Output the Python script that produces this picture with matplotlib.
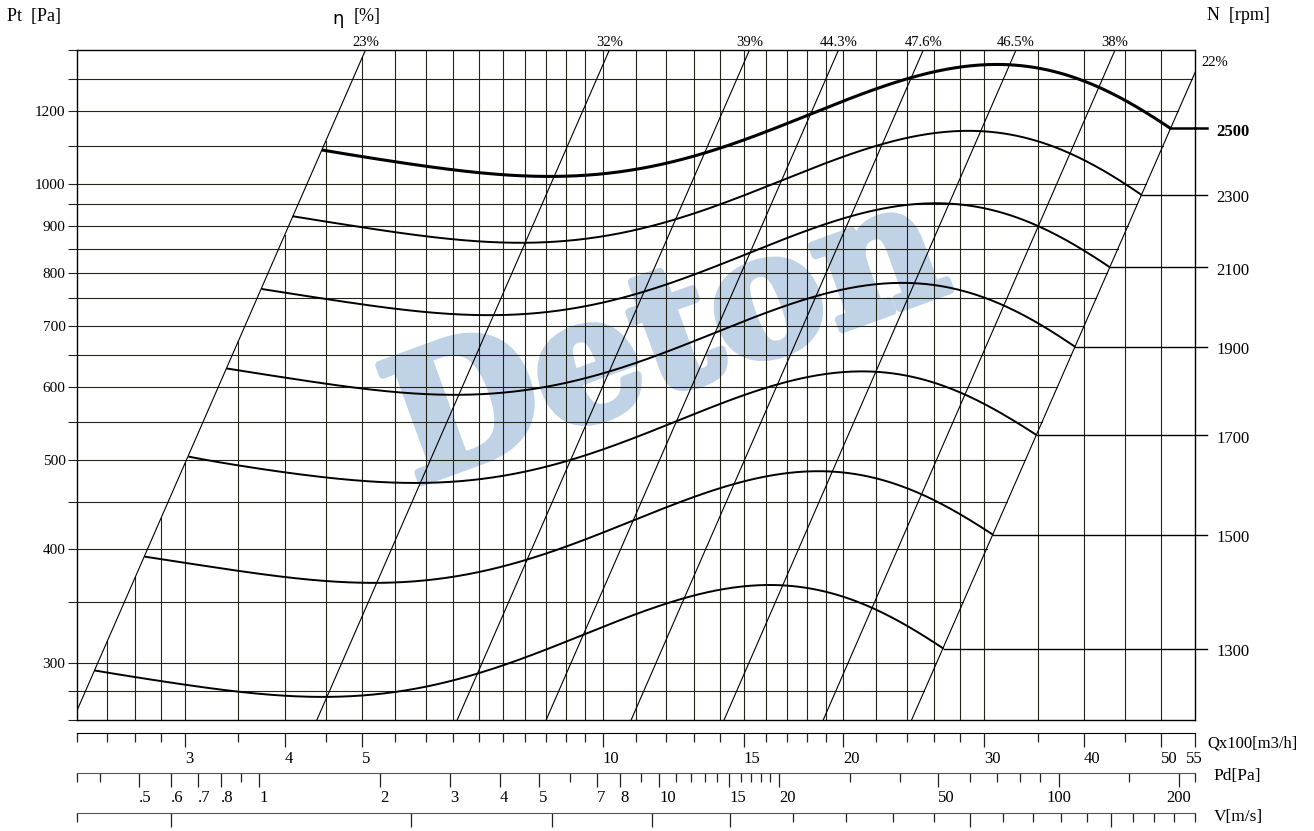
import numpy as np
import matplotlib
matplotlib.use("Agg")
import matplotlib.pyplot as plt
import matplotlib.transforms as mtransforms
import matplotlib.patheffects as pe
from matplotlib.ticker import NullLocator, NullFormatter

plt.rcParams['font.family'] = ['Liberation Serif', 'DejaVu Sans']

# ---------------- data ----------------
q_lim = (2.2, 55.0)          # Qx100 [m3/h]
p_lim = (260.0, 1400.0)      # Pt [Pa]
pd_lim = (0.35, 218.7)       # Pd [Pa]
v_lim = (0.7636, 19.09)      # V [m/s]

q_grid = [2.2, 2.4, 2.6, 2.8, 3, 3.5, 4, 4.5, 5, 5.5, 6, 6.5, 7, 7.5, 8, 8.5, 9, 9.5,
          10, 11, 12, 13, 14, 15, 16, 17, 18, 19, 20, 22, 24, 26, 28, 30, 35, 40, 45, 50, 55]
q_major = [3, 4, 5, 10, 15, 20, 30, 40, 50, 55]
q_major_labels = ['3', '4', '5', '10', '15', '20', '30', '40', '50', '55']

p_grid = [260, 280, 300, 350, 400, 450, 500, 550, 600, 650, 700, 750, 800, 850,
          900, 950, 1000, 1100, 1200, 1300, 1400]
p_labeled = [300, 400, 500, 600, 700, 800, 900, 1000, 1200]

pd_major = [0.5, 0.6, 0.7, 0.8, 1, 2, 3, 4, 5, 7, 8, 10, 15, 20, 50, 100, 200]
pd_major_labels = ['.5', '.6', '.7', '.8', '1', '2', '3', '4', '5', '7', '8', '10',
                   '15', '20', '50', '100', '200']
pd_minor = [0.35, 0.4, 0.9, 6, 9, 11, 12, 13, 14, 16, 17, 18, 19, 30, 40, 60, 70, 80,
            90, 150, 218.7]

v_major = [1, 2, 3, 4, 5, 10, 15]
v_minor = [0.7636, 6, 7, 8, 9, 11, 12, 13, 14, 16, 17, 18, 19.09]

eta_names = ['23%', '32%', '39%', '44.3%', '47.6%', '46.5%', '38%', '22%']
eta_q_top = [5.047, 10.19, 15.26, 19.72, 25.18, 32.89, 43.75, 56.67]      # at Pt = 1400
eta_q_bottom = [2.172, 4.387, 6.573, 8.493, 10.85, 14.18, 18.87, 24.34]   # at Pt = 260

rpm_labels = ['2500', '2300', '2100', '1900', '1700', '1500', '1300']

q_2500 = [4.45, 5.00, 6.00, 7.48, 8.42, 9.48, 10.8, 12.0, 13.5, 15.6, 18.1, 20.9, 24.2, 28.1, 31.1, 37.7, 41.9, 47.5, 51.3]
p_2500 = [1089, 1071, 1045, 1022, 1020, 1024, 1035, 1050, 1082, 1135, 1187, 1248, 1305, 1344, 1353, 1311, 1274, 1201, 1150]
q_2300 = [4.09, 4.60, 5.52, 6.88, 7.75, 8.72, 9.94, 11.0, 12.4, 14.4, 16.7, 19.2, 22.3, 25.9, 28.6, 34.7, 38.5, 43.7, 47.2]
p_2300 = [922, 907, 885, 865, 863, 867, 876, 889, 916, 961, 1005, 1056, 1105, 1138, 1145, 1110, 1078, 1017, 973]
q_2100 = [3.74, 4.20, 5.04, 6.28, 7.07, 7.96, 9.07, 10.1, 11.3, 13.1, 15.2, 17.6, 20.3, 23.6, 26.1, 31.7, 35.2, 39.9, 43.1]
p_2100 = [768, 756, 737, 721, 720, 723, 730, 741, 764, 801, 838, 881, 921, 948, 955, 925, 899, 847, 811]
q_1900 = [3.38, 3.80, 4.56, 5.69, 6.40, 7.21, 8.21, 9.12, 10.3, 11.9, 13.8, 15.9, 18.4, 21.4, 23.6, 28.7, 31.8, 36.1, 39.0]
p_1900 = [629, 619, 604, 590, 589, 592, 598, 607, 625, 656, 686, 721, 754, 776, 782, 757, 736, 694, 664]
q_1700 = [3.03, 3.40, 4.08, 5.09, 5.73, 6.45, 7.34, 8.16, 9.18, 10.6, 12.3, 14.2, 16.5, 19.1, 21.2, 25.6, 28.5, 32.3, 34.9]
p_1700 = [504, 495, 483, 473, 472, 474, 479, 486, 500, 525, 549, 577, 603, 622, 626, 606, 589, 555, 532]
q_1500 = [2.67, 3.00, 3.60, 4.49, 5.05, 5.69, 6.48, 7.20, 8.10, 9.36, 10.9, 12.5, 14.5, 16.9, 18.7, 22.6, 25.1, 28.5, 30.8]
p_1500 = [392, 386, 376, 368, 367, 369, 373, 378, 390, 409, 427, 449, 470, 484, 487, 472, 459, 432, 414]
q_1300 = [2.31, 2.60, 3.12, 3.89, 4.38, 4.93, 5.62, 6.24, 7.02, 8.11, 9.41, 10.9, 12.6, 14.6, 16.2, 19.6, 21.8, 24.7, 26.7]
p_1300 = [294.5, 289.6, 282.6, 276.3, 275.8, 276.9, 279.9, 283.9, 292.6, 306.9, 321.0, 337.5, 352.9, 363.4, 365.9, 354.5, 344.5, 324.8, 311.0]

curves = [(q_2500, p_2500), (q_2300, p_2300), (q_2100, p_2100), (q_1900, p_1900),
          (q_1700, p_1700), (q_1500, p_1500), (q_1300, p_1300)]


def smooth_curve(q, p, deg=6, num=400):
    """Least-squares smooth line through the read points (log-log), ends pinned."""
    x = np.log10(np.asarray(q, float))
    y = np.log10(np.asarray(p, float))
    w = np.ones_like(x)
    w[0] = w[-1] = 20.0
    w[1] = w[-2] = 4.0
    xm = x.mean()
    coef = np.polyfit(x - xm, y, deg, w=w)
    xs = np.linspace(x[0], x[-1], num)
    return 10 ** xs, 10 ** np.polyval(coef, xs - xm)


# ---------------- figure ----------------
W, H = 1314, 831
fig = plt.figure(figsize=(W / 100, H / 100), dpi=100)


def fx(px):
    return px / W


def fy(py):
    return 1 - py / H


LEFT, RIGHT, TOP, BOTTOM = 77.3, 1194.5, 50.0, 720.0
GRID_C = '#24241a'

ax = fig.add_axes([fx(LEFT), fy(BOTTOM), (RIGHT - LEFT) / W, (BOTTOM - TOP) / H])
ax.set_xscale('log')
ax.set_yscale('log')
ax.set_xlim(q_lim)
ax.set_ylim(p_lim)
for s in ax.spines.values():
    s.set_linewidth(1.0)
    s.set_color('black')

ax.xaxis.set_minor_locator(NullLocator())
ax.yaxis.set_minor_locator(NullLocator())
ax.tick_params(axis='x', which='both', bottom=False, labelbottom=False)
ax.set_yticks(p_grid, labels=[str(v) if v in p_labeled else '' for v in p_grid])
ax.yaxis.set_minor_formatter(NullFormatter())
ax.tick_params(axis='y', which='major', length=6.7, width=0.8, pad=1.8,
               labelsize=11, direction='out', color=GRID_C)

lq = np.log10
lp_lo, lp_hi = lq(p_lim[0]), lq(p_lim[1])

# vertical grid lines: bounded above by the 23% line
for q in q_grid[1:-1]:
    top = np.interp(lq(q), [lq(eta_q_bottom[0]), lq(eta_q_top[0])], [lp_lo, lp_hi])
    ax.plot([q, q], [p_lim[0], 10 ** top], color=GRID_C, lw=0.8, zorder=1)

# horizontal grid lines: bounded right by the 22% line
for p in p_grid[1:-1]:
    qr = 10 ** np.interp(lq(p), [lp_lo, lp_hi], [lq(eta_q_bottom[-1]), lq(eta_q_top[-1])])
    ax.plot([q_lim[0], min(qr, q_lim[1])], [p, p], color=GRID_C, lw=0.8, zorder=1)

# efficiency (system) lines
for name, qt, qb in zip(eta_names, eta_q_top, eta_q_bottom):
    ax.plot([qb, qt], [p_lim[0], p_lim[1]], color='black', lw=0.8, zorder=2)
    if name != '22%':
        ax.annotate(name, (qt, p_lim[1]), xytext=(0, 7.5), textcoords='offset pixels',
                    ha='center', va='center', fontsize=10.5, annotation_clip=False)
ax.text(1 + 6.5 / (RIGHT - LEFT), (BOTTOM - 62) / (BOTTOM - TOP), eta_names[-1],
        transform=ax.transAxes, ha='left', va='center', fontsize=10.5)

# fan curves
blend = mtransforms.blended_transform_factory(ax.transAxes, ax.transData)
lab_off = mtransforms.ScaledTranslation(0, -0.035, fig.dpi_scale_trans)
for k, ((qs, ps), lab) in enumerate(zip(curves, rpm_labels)):
    xs, ys = smooth_curve(qs, ps)
    lw = 2.2 if k == 0 else 1.4
    ax.plot(xs, ys, color='black', lw=lw, zorder=3, solid_capstyle='butt')
    pe_ = ps[-1]
    ax.plot([qs[-1], q_lim[1]], [pe_, pe_], color='black', lw=1.8 if k == 0 else 1.0,
            zorder=3, clip_on=False)
    ax.plot([1.0, 1.0 + 12.5 / (RIGHT - LEFT)], [pe_, pe_], transform=blend,
            color='black', lw=1.8 if k == 0 else 1.0, clip_on=False)
    ax.text(1.0 + 21.5 / (RIGHT - LEFT), pe_, lab, transform=blend + lab_off,
            ha='left', va='center', fontsize=12,
            fontweight='bold' if k == 0 else 'normal')

# watermark (under the lines)
wm_color = '#c0d2e6'
ax.text(fx(668), fy(342), 'Deton', transform=fig.transFigure, ha='center', va='center',
        rotation=20, fontsize=123, fontweight='bold', family=['DejaVu Serif'],
        color=wm_color, zorder=0.5, clip_on=False,
        path_effects=[pe.withStroke(linewidth=6, foreground=wm_color)])


# ---------------- bottom scales ----------------
def scale_axis(py, lim):
    a = fig.add_axes([fx(LEFT), fy(py), (RIGHT - LEFT) / W, 1e-4])
    a.set_xscale('log')
    a.set_xlim(lim)
    a.set_yticks([])
    for s in ['top', 'left', 'right']:
        a.spines[s].set_visible(False)
    a.patch.set_visible(False)
    return a


aq = scale_axis(733.3, q_lim)
aq.spines['bottom'].set_color('black')
aq.set_xticks(q_major, labels=q_major_labels)
aq.set_xticks([q for q in q_grid if q not in q_major], minor=True)
aq.xaxis.set_minor_formatter(NullFormatter())
aq.tick_params(axis='x', which='major', length=10.2, width=0.9, pad=2.5, labelsize=12,
               color='#222222')
aq.tick_params(axis='x', which='minor', length=6.7, width=0.9, color='#222222')
for t, lab in zip(aq.get_xticklabels(), q_major_labels):
    t.set_ha('center' if lab == '55' else 'left')

apd = scale_axis(773.3, pd_lim)
apd.spines['bottom'].set_color('#555555')
apd.set_xticks(pd_major, labels=pd_major_labels)
apd.set_xticks(pd_minor, minor=True)
apd.xaxis.set_minor_formatter(NullFormatter())
apd.tick_params(axis='x', which='major', length=10.2, width=0.9, pad=1.5, labelsize=12,
                color='#222222')
apd.tick_params(axis='x', which='minor', length=6.7, width=0.9, color='#222222')
for t, lab in zip(apd.get_xticklabels(), pd_major_labels):
    t.set_ha('center' if len(lab) == 3 else 'left')

av = scale_axis(813.3, v_lim)
av.spines['bottom'].set_color('#555555')
av.set_xticks(v_major, labels=[''] * len(v_major))
av.set_xticks(v_minor, minor=True)
av.xaxis.set_minor_formatter(NullFormatter())
av.tick_params(axis='x', which='major', length=10.4, width=0.9, color='#222222')
av.tick_params(axis='x', which='minor', length=6.5, width=0.9, color='#222222')

fig.text(fx(1207), fy(743.3), 'Qx100[m3/h]', ha='left', va='center', fontsize=12)
fig.text(fx(1213.3), fy(776), 'Pd[Pa]', ha='left', va='center', fontsize=12.5)
fig.text(fx(1213.3), fy(817.3), 'V[m/s]', ha='left', va='center', fontsize=12.5)

# top titles
fig.text(fx(6.7), fy(17), 'Pt  [Pa]', ha='left', va='center', fontsize=13)
fig.text(fx(332), fy(19), 'η', ha='left', va='center', fontsize=13,
         family=['DejaVu Sans'])
fig.text(fx(354), fy(17), '[%]', ha='left', va='center', fontsize=13)
fig.text(fx(1207), fy(16), 'N  [rpm]', ha='left', va='center', fontsize=13)

fig.savefig('out.png', dpi=100)
